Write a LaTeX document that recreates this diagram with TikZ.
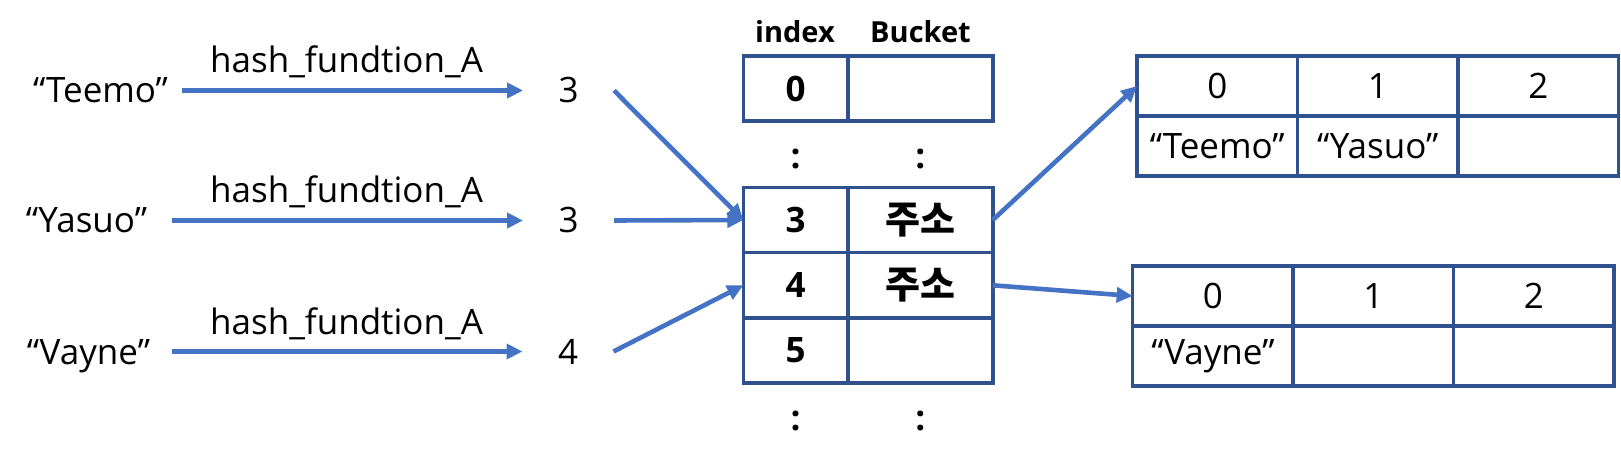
\documentclass[tikz,border=0pt]{standalone}
\usepackage{fontspec}
\setmainfont{Open Sans}
\newfontfamily\krfont{Noto Sans CJK KR}
\usetikzlibrary{arrows.meta}
\definecolor{arrowblue}{HTML}{4472C4}
\definecolor{boxblue}{HTML}{2F528F}
\begin{document}
\begin{tikzpicture}[x=1pt,y=-1pt,
  every node/.style={inner sep=0pt, outer sep=0pt},
  word/.style={font=\fontsize{35}{42}\selectfont, text height=25pt, text depth=0pt},
  num/.style={word, minimum width=91pt},
  fn/.style={font=\fontsize{35}{42}\selectfont},
  hdr/.style={font=\fontsize{29}{35}\selectfont\bfseries},
  cell/.style={draw=boxblue, line width=3.6pt, minimum height=65.3pt, font=\fontsize{35}{42}\selectfont\bfseries},
  idxcell/.style={cell, minimum width=104.7pt},
  bktcell/.style={cell, minimum width=144.7pt},
  kr/.style={font=\krfont\fontsize{38}{44}\selectfont\bfseries},
  arrcell/.style={draw=boxblue, line width=3.6pt, minimum width=160.5pt, minimum height=60pt, font=\fontsize{35}{42}\selectfont},
  dotsym/.style={font=\fontsize{35}{42}\selectfont\bfseries},
  link/.style={draw=arrowblue, line width=4.6pt, -{Triangle[length=16pt,width=15pt]}}
]
\useasboundingbox (0,0) rectangle (1621,462);

% keys and hash results
\node[word, anchor=base east] (s1) at (168,103) {“Teemo”};
\node[word, anchor=base east] (s2) at (147,233) {“Yasuo”};
\node[word, anchor=base east] (s3) at (150,364) {“Vayne”};
\node[num, anchor=base] (n1) at (568.5,103) {3};
\node[num, anchor=base] (n2) at (568.5,233) {3};
\node[num, anchor=base] (n3) at (568,364) {4};
\node[fn, anchor=base] (h1) at (346.5,72.7) {hash\_fundtion\_A};
\node[fn, anchor=base] (h2) at (346.5,202.7) {hash\_fundtion\_A};
\node[fn, anchor=base] (h3) at (346.5,334) {hash\_fundtion\_A};
\draw[link] ([xshift=14pt]s1.east) -- (n1.west);
\draw[link] ([xshift=25pt]s2.east) -- (n2.west);
\draw[link] ([xshift=22pt]s3.east) -- (n3.west);

% hash table
\node[hdr, anchor=base] (hi) at (795,42.7) {index};
\node[hdr, anchor=base] (hb) at (920.5,42.7) {Bucket};
\node[idxcell] (i0) at (795.65,88.5) {0};
\node[bktcell] (b0) at (920.35,88.5) {};
\node[dotsym] (d1) at (795.65,159) {:};
\node[dotsym] (d2) at (920.35,159) {:};
\node[idxcell] (i3) at (795.65,220) {3};
\node[bktcell, kr] (b3) at (920.35,220) {주소};
\node[idxcell] (i4) at (795.65,285.3) {4};
\node[bktcell, kr] (b4) at (920.35,285.3) {주소};
\node[idxcell] (i5) at (795.65,350.6) {5};
\node[bktcell] (b5) at (920.35,350.6) {};
\node[dotsym] (d3) at (795.65,421) {:};
\node[dotsym] (d4) at (920.35,421) {:};

\draw[link] (n1.east) -- (i3.west);
\draw[link] (n2.east) -- (i3.west);
\draw[link] (n3.east) -- (i4.west);

% top array
\node[arrcell] (a00) at (1217.3,86) {0};
\node[arrcell] (a01) at (1377.8,86) {1};
\node[arrcell] (a02) at (1538.3,86) {2};
\node[arrcell] (a10) at (1217.3,146) {“Teemo”};
\node[arrcell] (a11) at (1377.8,146) {“Yasuo”};
\node[arrcell] (a12) at (1538.3,146) {};

% bottom array
\node[arrcell] (c00) at (1212.9,296) {0};
\node[arrcell] (c01) at (1373.4,296) {1};
\node[arrcell] (c02) at (1533.9,296) {2};
\node[arrcell] (c10) at (1212.9,356) {“Vayne”};
\node[arrcell] (c11) at (1373.4,356) {};
\node[arrcell] (c12) at (1533.9,356) {};

\draw[link] (b3.east) -- (a00.west);
\draw[link] (b4.east) -- (c00.west);
\end{tikzpicture}
\end{document}
